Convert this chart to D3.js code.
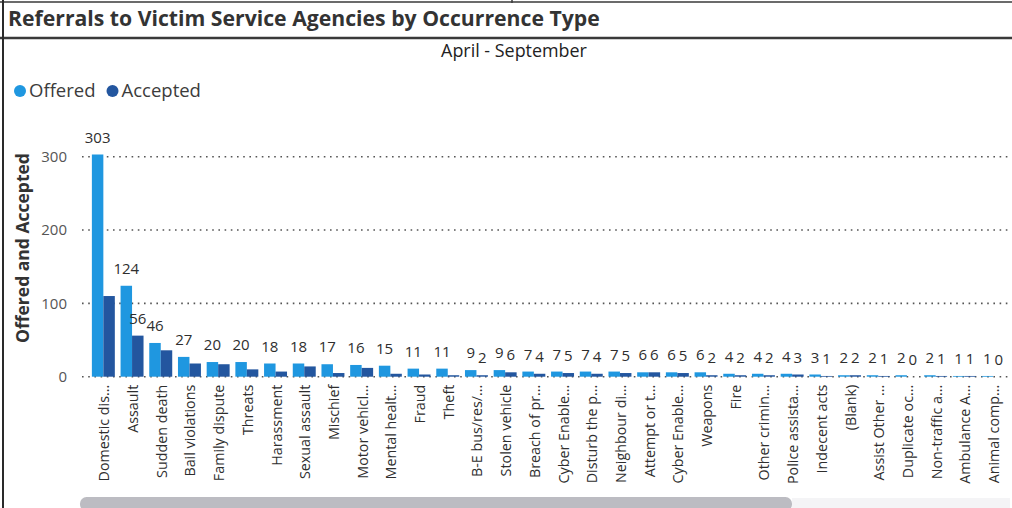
<!DOCTYPE html>
<html>
<head>
<meta charset="utf-8">
<script src="https://cdn.jsdelivr.net/npm/d3@7"></script>
<style>
  html, body { margin: 0; padding: 0; background: #fff; }
  svg { display: block; font-family: "Open Sans", "Noto Sans", sans-serif; }
</style>
</head>
<body>
<svg id="chart" width="1012" height="508"></svg>
<script>
const titleText = "Referrals to Victim Service Agencies by Occurrence Type";
const subtitleText = "April - September";
const yAxisTitle = "Offered and Accepted";
const seriesNames = ["Offered", "Accepted"];
const categories = ["Domestic dis...","Assault","Sudden death","Bail violations","Family dispute","Threats","Harassment","Sexual assault","Mischief","Motor vehicl...","Mental healt...","Fraud","Theft","B-E bus/res/...","Stolen vehicle","Breach of pr...","Cyber Enable...","Disturb the p...","Neighbour di...","Attempt or t...","Cyber Enable...","Weapons","Fire","Other crimin...","Police assista...","Indecent acts","(Blank)","Assist Other ...","Duplicate oc...","Non-traffic a...","Ambulance A...","Animal comp..."];
const offered  = [303,124,46,27,20,20,18,18,17,16,15,11,11,9,9,7,7,7,7,6,6,6,4,4,4,3,2,2,2,2,1,1];
const accepted = [110,56,36,18,17,10,7,14,5,12,4,3,2,2,6,4,5,4,5,6,5,2,2,2,3,1,2,1,0,1,1,0];
const yTicks = [0, 100, 200, 300];

const colors = ["#1F97E0", "#23569F"];
const svg = d3.select("#chart");

// frame lines
svg.append("line").attr("x1",0).attr("x2",1012).attr("y1",2).attr("y2",2).attr("stroke","#3a3a3a").attr("stroke-width",1.5);
svg.append("line").attr("x1",512).attr("x2",512).attr("y1",0).attr("y2",3).attr("stroke","#3a3a3a").attr("stroke-width",1.5);
svg.append("line").attr("x1",0).attr("x2",1012).attr("y1",38).attr("y2",38).attr("stroke","#3a3a3a").attr("stroke-width",2.5);
svg.append("line").attr("x1",3).attr("x2",3).attr("y1",0).attr("y2",508).attr("stroke","#2a2a2a").attr("stroke-width",2);

// helper: fit text to a measured width
function fit(sel, base, target) {
  const w = sel.node().getComputedTextLength();
  sel.attr("font-size", base * target / w);
}

// title
const title = svg.append("text").attr("x",8).attr("y",26)
  .attr("font-weight",700).attr("font-size",20).attr("fill","#333").text(titleText);
fit(title, 20, 592);

const sub = svg.append("text").attr("x",514).attr("y",57).attr("text-anchor","middle")
  .attr("font-size",17).attr("fill","#222").text(subtitleText);
fit(sub, 17, 146);

// legend
const lg = svg.append("g");
let lx = 20;
seriesNames.forEach((n, i) => {
  lg.append("circle").attr("cx", lx).attr("cy", 91).attr("r", 6).attr("fill", colors[i]);
  const t = lg.append("text").attr("x", lx + 9).attr("y", 97).attr("font-size", 18.5).attr("fill","#3c3c3c").text(n);
  lx = lx + 9 + t.node().getComputedTextLength() + 17;
});

// scales
const x0 = d3.scaleBand().domain(d3.range(categories.length)).range([89, 1007.4]).paddingInner(0.2).paddingOuter(0.1);
const x1 = d3.scaleBand().domain([0,1]).range([0, x0.bandwidth()]);
const y = d3.scaleLinear().domain([0, 300]).range([376.7, 156.7]);

// gridlines
svg.append("g").selectAll("line").data(yTicks).join("line")
  .attr("x1", 82).attr("x2", 1010)
  .attr("y1", d => y(d)).attr("y2", d => y(d))
  .attr("stroke", "#555").attr("stroke-width", 1.6)
  .attr("stroke-dasharray", "1.6,4.6");

// y axis
const yAxis = svg.append("g").attr("transform", "translate(69,0)")
  .call(d3.axisLeft(y).tickValues(yTicks).tickSize(0).tickPadding(2));
yAxis.select(".domain").remove();
yAxis.selectAll("text").attr("font-size", 15).attr("fill", "#555").attr("font-family", "Open Sans, sans-serif");

const yt = svg.append("text").attr("transform","translate(29,248) rotate(-90)").attr("text-anchor","middle")
  .attr("font-size",18).attr("font-weight",700).attr("fill","#333").text(yAxisTitle);
fit(yt, 18, 190);

// bars
const series = [offered, accepted];
const bars = [];
const groups = svg.append("g").selectAll("g").data(categories.map((c, i) => i)).join("g")
  .attr("transform", i => `translate(${x0(i)},0)`);
groups.each(function(i) {
  const g = d3.select(this);
  [0,1].forEach(s => {
    const v = series[s][i];
    g.append("rect").attr("x", x1(s)).attr("width", x1.bandwidth())
      .attr("y", y(v)).attr("height", y(0) - y(v)).attr("fill", colors[s]);
    bars.push({s, i, x0: x0(i) + x1(s), x1: x0(i) + x1(s) + x1.bandwidth(), y0: y(v), y1: y(0)});
  });
});

// x axis labels
const xAxis = svg.append("g").attr("transform", `translate(0,${y(0)})`)
  .call(d3.axisBottom(x0).tickFormat(i => categories[i]).tickSize(0).tickPadding(0));
xAxis.select(".domain").remove();
xAxis.selectAll("text")
  .attr("font-size", 14.3).attr("fill", "#2e2e2e").attr("font-family", "Open Sans, sans-serif")
  .attr("text-anchor", "end").attr("dy", "0.35em").attr("dx", 0)
  .attr("transform", "translate(1,8) rotate(-90)").attr("x", 0).attr("y", 0);

// data labels with overlap hiding
const lblG = svg.append("g");
const kept = [];
function overlap(a, b, pad) {
  return a.x0 < b.x1 + pad && b.x0 < a.x1 + pad && a.y0 < b.y1 + pad && b.y0 < a.y1 + pad;
}
categories.forEach((c, i) => {
  [0,1].forEach(s => {
    const v = series[s][i];
    const cx = x0(i) + x1(s) + x1.bandwidth() / 2;
    const t = lblG.append("text").attr("x", cx).attr("y", y(v) - 12)
      .attr("text-anchor", "middle").attr("font-size", 15).attr("fill", "#2e2e2e").text(d3.format("d")(v));
    const bb = t.node().getBBox();
    const box = {x0: bb.x, x1: bb.x + bb.width, y0: bb.y + 3, y1: bb.y + bb.height - 3};
    let hide = false;
    if (s === 1) {
      for (const k of kept) if (overlap(box, k, 0.5)) { hide = true; break; }
      if (!hide) {
        for (const b of bars) {
          if (b.i === i && b.s === s) continue;
          const ox = Math.min(box.x1, b.x1) - Math.max(box.x0, b.x0);
          const oy = Math.min(box.y1, b.y1) - Math.max(box.y0, b.y0);
          if (ox > 4 && oy > 0) { hide = true; break; }
        }
      }
    }
    if (hide) t.remove(); else kept.push(box);
  });
});

// scrollbar
svg.append("rect").attr("x", 792).attr("y", 498).attr("width", 218).attr("height", 12).attr("fill", "#f4f4f6");
svg.append("rect").attr("x", 80).attr("y", 497).attr("width", 712).attr("height", 14).attr("rx", 6.5).attr("fill", "#bcbcc2");
</script>
</body>
</html>
